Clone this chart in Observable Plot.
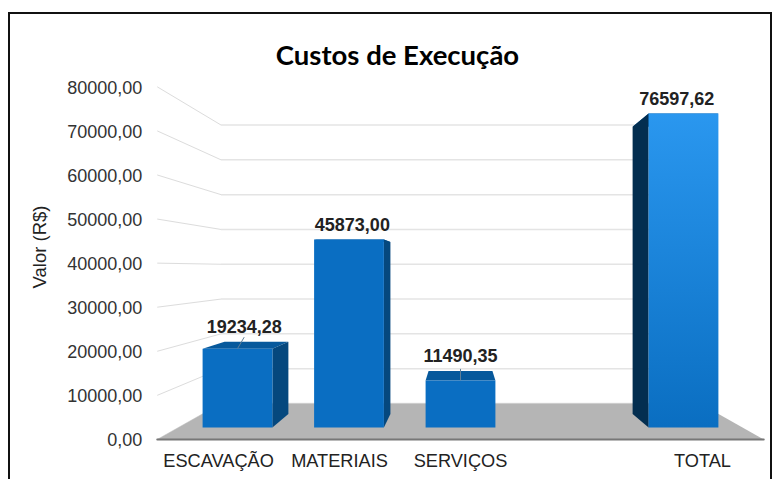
<!DOCTYPE html>
<html>
<head>
<meta charset="utf-8">
<script src="https://cdn.jsdelivr.net/npm/d3@7"></script>
<script src="https://cdn.jsdelivr.net/npm/@observablehq/plot@0.6"></script>
<style>
html,body{margin:0;padding:0;background:#fff;}
#chart{position:relative;width:774px;height:479px;overflow:hidden;}
#chart svg{display:block;position:absolute;left:0;top:0;background:transparent;}
#frame{position:absolute;left:8px;top:12px;right:2px;bottom:-5px;border:2px solid #111;}
</style>
</head>
<body>
<div id="chart"><div id="frame"></div></div>
<script>
const chartTitle = "Custos de Execução";
const axisTitle = "Valor (R$)";
const categories = ["ESCAVAÇÃO", "MATERIAIS", "SERVIÇOS", "", "TOTAL"];
const values = [19234.28, 45873.00, 11490.35, null, 76597.62];
const valueLabels = ["19234,28", "45873,00", "11490,35", "", "76597,62"];
const tickValues = [0, 10000, 20000, 30000, 40000, 50000, 60000, 70000, 80000];
const tickLabels = ["0,00", "10000,00", "20000,00", "30000,00", "40000,00", "50000,00", "60000,00", "70000,00", "80000,00"];
const leaderCategories = ["ESCAVAÇÃO", "SERVIÇOS"];

// Oblique projection towards a vanishing point, in data units
const vanishIndex = 2, vanishValue = 38780;
const axisDepth = 1.075, wallDepth = 0.849, barBackDepth = 0.915;
const halfBar = 0.313, floorHalf = 2.53;
const project = (i, v, s) => ({x: vanishIndex + (i - vanishIndex) * s, y: vanishValue + (v - vanishValue) * s});
const floorL = vanishIndex - floorHalf, floorR = vanishIndex + floorHalf;

const face = (pts, fill) => Plot.line(pts, {x: "x", y: "y", fill, stroke: "none", z: null});

const bars = categories.map((c, i) => ({c, i, v: values[i], label: valueLabels[i]})).filter(d => d.v != null);

const barMarks = bars.flatMap(({i, v, c}) => {
  const L = i - halfBar, R = i + halfBar;
  const isTotal = c === "TOTAL";
  const sideX = i < vanishIndex ? R : L;
  const fl = project(L, v, 1), fr = project(R, v, 1);
  const bl = project(L, v, barBackDepth), br = project(R, v, barBackDepth);
  const marks = [face([fl, fr, br, bl], "#07599c")];
  if (i !== vanishIndex) {
    marks.push(face([
      project(sideX, 0, 1), project(sideX, v, 1),
      project(sideX, v, barBackDepth), project(sideX, 0, barBackDepth)
    ], isTotal ? "#032e50" : "#05487e"));
  }
  marks.push(face([project(L, 0, 1), project(L, v, 1), project(R, v, 1), project(R, 0, 1)], isTotal ? "url(#totalFront)" : "#0a6ec2"));
  return marks;
});

const defs = () => {
  const ns = "http://www.w3.org/2000/svg";
  const d = document.createElementNS(ns, "defs");
  const g = document.createElementNS(ns, "linearGradient");
  g.setAttribute("id", "totalFront");
  g.setAttribute("x1", "0"); g.setAttribute("y1", "0"); g.setAttribute("x2", "0"); g.setAttribute("y2", "1");
  [["0", "#2a97ef"], ["1", "#0a6ec1"]].forEach(([o, c]) => {
    const s = document.createElementNS(ns, "stop");
    s.setAttribute("offset", o); s.setAttribute("stop-color", c);
    g.appendChild(s);
  });
  d.appendChild(g);
  return d;
};

const gridRows = tickValues.map((v) => ({v, a: project(floorL, v, axisDepth), b: project(floorL, v, wallDepth), c: project(floorR, v, wallDepth)}));
const sansStack = "Liberation Sans, Arial, sans-serif";

const plot = Plot.plot({
  width: 774, height: 479,
  marginTop: 0, marginRight: 0, marginBottom: 0, marginLeft: 0,
  x: {type: "linear", domain: [0, 4], range: [237, 683], axis: null},
  y: {type: "linear", domain: [0, 80000], range: [427, 99], axis: null},
  style: {background: "transparent"},
  marks: [
    defs,
    // side wall and back wall gridlines
    Plot.link(gridRows, {x1: d => d.a.x, y1: d => d.a.y, x2: d => d.b.x, y2: d => d.b.y, stroke: "#dcdcdc", strokeWidth: 1}),
    Plot.link(gridRows, {x1: d => d.b.x, y1: d => d.b.y, x2: d => d.c.x, y2: d => d.c.y, stroke: "#e4e4e4", strokeWidth: 1.5}),
    // floor
    face([project(floorL, 0, axisDepth), project(floorL, 0, wallDepth), project(floorR, 0, wallDepth), project(floorR, 0, axisDepth)], "#b5b5b5"),
    Plot.line([project(floorL, 0, axisDepth), project(floorR, 0, axisDepth)], {x: "x", y: "y", stroke: "#777", strokeWidth: 2}),
    ...barMarks,
    // leader lines from bar tops towards labels
    Plot.link(bars.filter(d => leaderCategories.includes(d.c)), {
      x1: "i", y1: "v",
      x2: d => d.i + (vanishIndex - d.i) * 0.03, y2: d => d.v + 2800,
      stroke: "#5f7f99", strokeWidth: 1
    }),
    // value labels
    Plot.text(bars, {
      x: d => d.i + (vanishIndex - d.i) * 0.03,
      y: d => Math.max(d.v, project(d.i, d.v, barBackDepth).y),
      text: "label", dy: -14.5, fontWeight: "bold", fontSize: 18, fontFamily: sansStack, fill: "#222"
    }),
    // value axis labels
    Plot.text(tickValues, {
      x: () => project(floorL, 0, axisDepth).x,
      y: (v) => project(floorL, v, axisDepth).y,
      text: (v, i) => tickLabels[i], textAnchor: "end", dx: -15, dy: 1, fontSize: 18, fontFamily: sansStack, fill: "#333"
    }),
    // category labels
    Plot.text(categories.map((c, i) => ({c, i})).filter(d => d.c), {
      x: d => project(d.i, 0, 1.085).x, y: d => project(d.i, 0, axisDepth).y,
      text: "c", dy: 22, fontSize: 18.2, fontFamily: sansStack, fill: "#222"
    }),
    // titles
    Plot.text([chartTitle], {
      frameAnchor: "top", text: d => d, dx: 10, dy: 45, lineAnchor: "top",
      fontSize: 27.5, fontWeight: "bold", fontFamily: "Lato, sans-serif", fill: "#000"
    }),
    Plot.text([axisTitle], {
      frameAnchor: "left", text: d => d, rotate: -90, dx: 40, dy: 7, textAnchor: "middle",
      fontSize: 18.5, fontFamily: sansStack, fill: "#222"
    })
  ]
});
document.getElementById("chart").appendChild(plot);
</script>
</body>
</html>
